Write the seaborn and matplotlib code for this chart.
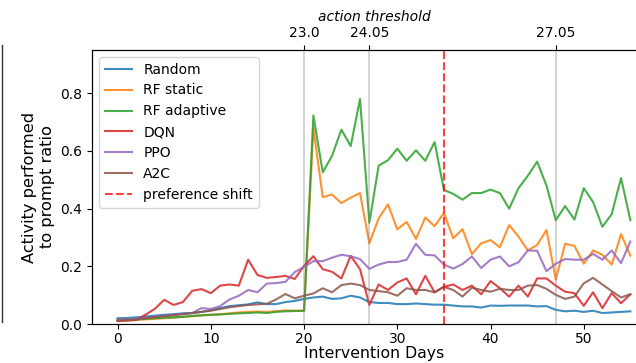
import matplotlib
matplotlib.use("Agg")
import matplotlib.pyplot as plt
from matplotlib.lines import Line2D
import numpy as np
import pandas as pd
import seaborn as sns

plt.rcParams['font.family'] = ['DejaVu Sans']

days = list(range(56))

random_vals = [0.020, 0.021, 0.023, 0.026, 0.029, 0.032, 0.034, 0.037, 0.038, 0.042,
               0.048, 0.055, 0.062, 0.065, 0.068, 0.075, 0.069, 0.069, 0.076, 0.080,
               0.087, 0.092, 0.095, 0.087, 0.089, 0.098, 0.092, 0.076, 0.073, 0.073,
               0.069, 0.069, 0.071, 0.069, 0.067, 0.067, 0.064, 0.061, 0.061, 0.057,
               0.064, 0.063, 0.064, 0.064, 0.064, 0.061, 0.062, 0.049, 0.044, 0.046,
               0.042, 0.046, 0.038, 0.040, 0.042, 0.044]

rf_static = [0.010, 0.012, 0.014, 0.016, 0.018, 0.020, 0.022, 0.025, 0.027, 0.030,
             0.032, 0.034, 0.037, 0.040, 0.042, 0.043, 0.042, 0.044, 0.047, 0.046,
             0.046, 0.680, 0.440, 0.449, 0.419, 0.438, 0.454, 0.280, 0.366, 0.415,
             0.328, 0.354, 0.295, 0.369, 0.339, 0.385, 0.297, 0.329, 0.242, 0.280,
             0.291, 0.266, 0.343, 0.303, 0.255, 0.274, 0.326, 0.154, 0.278, 0.271,
             0.209, 0.255, 0.240, 0.206, 0.312, 0.237]

rf_adaptive = [0.015, 0.015, 0.016, 0.018, 0.020, 0.022, 0.023, 0.025, 0.028, 0.030,
               0.032, 0.033, 0.035, 0.037, 0.038, 0.040, 0.038, 0.042, 0.044, 0.045,
               0.046, 0.723, 0.526, 0.583, 0.674, 0.617, 0.780, 0.351, 0.549, 0.568,
               0.608, 0.566, 0.602, 0.566, 0.631, 0.465, 0.451, 0.431, 0.454, 0.454,
               0.466, 0.454, 0.400, 0.471, 0.514, 0.563, 0.480, 0.360, 0.409, 0.362,
               0.471, 0.423, 0.337, 0.381, 0.506, 0.360]

dqn = [0.011, 0.012, 0.014, 0.032, 0.053, 0.084, 0.066, 0.076, 0.115, 0.121,
       0.107, 0.133, 0.137, 0.133, 0.223, 0.170, 0.160, 0.163, 0.167, 0.156,
       0.202, 0.235, 0.190, 0.181, 0.158, 0.236, 0.190, 0.066, 0.137, 0.118,
       0.144, 0.158, 0.103, 0.167, 0.110, 0.129, 0.137, 0.118, 0.133, 0.103,
       0.149, 0.124, 0.095, 0.133, 0.095, 0.158, 0.158, 0.133, 0.112, 0.107,
       0.063, 0.110, 0.055, 0.107, 0.072, 0.103]

ppo = [0.015, 0.016, 0.018, 0.021, 0.025, 0.028, 0.032, 0.035, 0.038, 0.055,
       0.052, 0.062, 0.085, 0.098, 0.118, 0.110, 0.140, 0.142, 0.146, 0.180,
       0.198, 0.218, 0.218, 0.230, 0.240, 0.235, 0.225, 0.191, 0.206, 0.215,
       0.215, 0.223, 0.278, 0.240, 0.238, 0.206, 0.192, 0.208, 0.234, 0.194,
       0.223, 0.234, 0.200, 0.214, 0.255, 0.254, 0.183, 0.209, 0.225, 0.223,
       0.223, 0.243, 0.223, 0.255, 0.211, 0.286]

a2c = [0.012, 0.014, 0.016, 0.020, 0.024, 0.027, 0.030, 0.034, 0.038, 0.042,
       0.046, 0.052, 0.058, 0.062, 0.066, 0.068, 0.070, 0.085, 0.104, 0.089,
       0.098, 0.106, 0.124, 0.110, 0.135, 0.140, 0.135, 0.118, 0.114, 0.110,
       0.098, 0.124, 0.118, 0.118, 0.110, 0.129, 0.118, 0.095, 0.126, 0.118,
       0.112, 0.122, 0.118, 0.118, 0.133, 0.135, 0.122, 0.101, 0.087, 0.095,
       0.141, 0.160, 0.137, 0.114, 0.092, 0.103]

series_names = ["Random", "RF static", "RF adaptive", "DQN", "PPO", "A2C"]
series_values = [random_vals, rf_static, rf_adaptive, dqn, ppo, a2c]
colors = ["tab:blue", "tab:orange", "tab:green", "tab:red", "tab:purple", "tab:brown"]

threshold_days = [20, 27, 47]
threshold_labels = ["23.0", "24.05", "27.05"]
shift_day = 35

fig = plt.figure(figsize=(6.36, 3.63), dpi=100)
ax = fig.add_axes([92 / 636, 39 / 363, (656 - 92) / 636, (324 - 50) / 363])

for name, vals, c in zip(series_names, series_values, colors):
    sns.lineplot(x=days, y=vals, ax=ax, label=name, color=c, linewidth=1.5, alpha=0.85)

for d in threshold_days:
    ax.axvline(d, color="gray", alpha=0.4, linewidth=1.2)
ax.axvline(shift_day, color="red", alpha=0.75, linestyle="--", linewidth=1.5,
           label="preference shift")

ax.set_ylim(0, 0.95)
ax.set_xlim(-2.75, 57.75)
ax.set_xticks([0, 10, 20, 30, 40, 50])
ax.set_yticks([0.0, 0.2, 0.4, 0.6, 0.8])
ax.tick_params(labelsize=10)
ax.tick_params(axis="x", pad=2.5)
ax.set_xlabel("Intervention Days", fontsize=11.3, labelpad=0)
ax.set_ylabel("Activity performed\nto prompt ratio", fontsize=11.7)
ax.legend(loc="upper left", fontsize=10)

ax2 = ax.twiny()
ax2.set_xlim(ax.get_xlim())
ax2.set_xticks(threshold_days)
ax2.set_xticklabels(threshold_labels)
ax2.tick_params(labelsize=10)
ax2.set_xlabel("action threshold", fontsize=10, style="italic")

fig.add_artist(Line2D([2 / 636, 2 / 636], [1 - 322 / 363, 1 - 45 / 363],
                      color="#333333", linewidth=1.0))

fig.savefig("out.png", dpi=100)
